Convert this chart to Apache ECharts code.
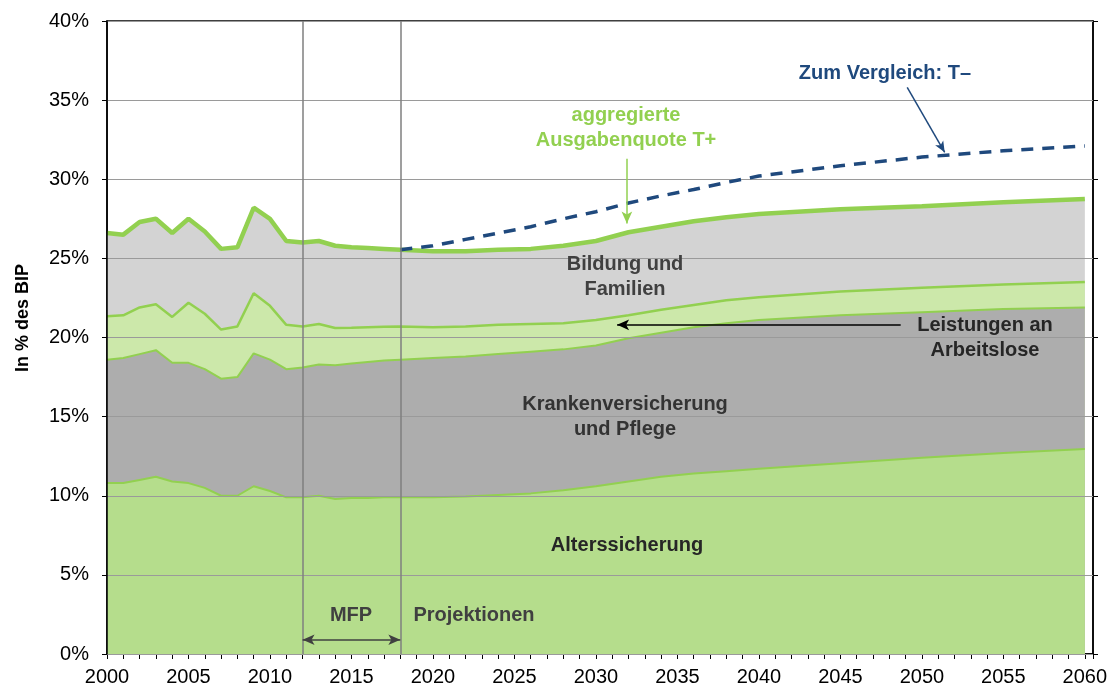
<!DOCTYPE html>
<html>
<head>
<meta charset="utf-8">
<script src="https://cdn.jsdelivr.net/npm/echarts@6/dist/echarts.min.js"></script>
<style>
  html, body { margin: 0; padding: 0; background: #fff; }
  #chart { width: 1115px; height: 693px; }
</style>
</head>
<body>
<div id="chart"></div>
<script>
// ---- data (share of GDP in %, per area) ----
const years = [2000, 2001, 2002, 2003, 2004, 2005, 2006, 2007, 2008, 2009, 2010, 2011, 2012, 2013, 2014, 2015, 2016, 2017, 2018,
  2020, 2022, 2024, 2026, 2028, 2030, 2032, 2034, 2036, 2038, 2040, 2045, 2050, 2055, 2060]
const alterssicherung = [10.8, 10.8, 11.0, 11.2, 10.9, 10.8, 10.5, 10.0, 10.0, 10.6, 10.3, 9.9, 9.9, 10.0, 9.8, 9.85, 9.85, 9.9, 9.9,
  9.9, 9.95, 10.05, 10.15, 10.35, 10.6, 10.9, 11.2, 11.4, 11.55, 11.7, 12.05, 12.4, 12.7, 12.95]
const kranken = [7.8, 7.9, 7.95, 8.0, 7.5, 7.6, 7.5, 7.4, 7.5, 8.4, 8.3, 8.1, 8.2, 8.3, 8.45, 8.5, 8.6, 8.65, 8.7,
  8.8, 8.85, 8.9, 8.95, 8.9, 8.9, 9.05, 9.1, 9.25, 9.35, 9.4, 9.35, 9.2, 9.1, 8.95]
const arbeitslose = [2.75, 2.7, 2.95, 2.9, 2.9, 3.8, 3.5, 3.1, 3.2, 3.8, 3.4, 2.8, 2.6, 2.55, 2.35, 2.27, 2.2, 2.13, 2.1,
  1.95, 1.9, 1.85, 1.75, 1.65, 1.6, 1.45, 1.45, 1.4, 1.45, 1.45, 1.5, 1.55, 1.55, 1.6]
const bildung = [5.25, 5.1, 5.4, 5.4, 5.3, 5.3, 5.2, 5.1, 5.0, 5.4, 5.5, 5.3, 5.3, 5.25, 5.2, 5.08, 5.0, 4.92, 4.85,
  4.8, 4.75, 4.75, 4.75, 4.9, 5.0, 5.25, 5.25, 5.3, 5.25, 5.25, 5.2, 5.15, 5.2, 5.25]

// comparison scenario T-
const tMinusYears = [2018, 2020, 2022, 2024, 2026, 2028, 2030, 2032, 2034, 2036, 2038, 2040, 2045, 2050, 2055, 2060]
const tMinus = [25.55, 25.8, 26.2, 26.6, 27.0, 27.5, 27.95, 28.5, 28.95, 29.35, 29.8, 30.2, 30.85, 31.4, 31.8, 32.1]

const xRange = [2000, 2060]
const yRange = [0, 40]

const GREEN = '#92d050'
const FONT = '"Liberation Sans", Arial, sans-serif'

// running totals, so each band sits on the one below it
const layers = [alterssicherung, kranken, arbeitslose, bildung]
const cumulative = layers.map((_, k) =>
  years.map((_, i) => +layers.slice(0, k + 1).reduce((s, arr) => s + arr[i], 0).toFixed(3))
)
const pairs = (xs, vs) => xs.map((x, i) => [x, vs[i]])

const chart = echarts.init(document.getElementById('chart'))

const areaSeries = (name, values, color, lineWidth) => ({
  name,
  type: 'line',
  data: pairs(years, values),
  symbol: 'none',
  lineStyle: { color: GREEN, width: lineWidth },
  areaStyle: { color, opacity: 1, origin: 'start' },
  emphasis: { disabled: true },
  z: 2,
})

// text annotations
const label = (text, x, y, color, size) => ({
  type: 'text',
  x, y, z: 100,
  style: {
    text,
    fill: color,
    font: 'bold ' + (size || 20) + 'px ' + FONT,
    align: 'center',
    verticalAlign: 'middle',
    lineHeight: 25,
  },
})

const solid = (color) => ({ color, width: 1.5, type: 'solid' })

chart.setOption({
  animation: false,
  backgroundColor: '#fff',
  grid: {
    left: 107,
    right: 22,
    top: 21,
    bottom: 39,
    show: true,
    borderColor: '#000',
    borderWidth: 1.5,
  },
  xAxis: {
    type: 'value',
    min: xRange[0],
    max: xRange[1] + 0.5,
    interval: 5,
    axisLine: { show: true, onZero: false, lineStyle: { color: '#000', width: 1.5 } },
    axisTick: { show: true, length: 5, lineStyle: { color: '#000' } },
    minorTick: { show: true, splitNumber: 5, length: 5, lineStyle: { color: '#000' } },
    splitLine: { show: false },
    axisLabel: {
      color: '#000',
      fontFamily: FONT,
      fontSize: 20,
      margin: 13,
      formatter: (v) => (v % 5 === 0 ? String(v) : ''),
    },
  },
  yAxis: [
    {
      type: 'value',
      min: yRange[0],
      max: yRange[1],
      interval: 5,
      z: 3,
      axisLine: { show: true, lineStyle: { color: '#000', width: 1.5 } },
      axisTick: { show: true, length: 5, lineStyle: { color: '#000' } },
      splitLine: { show: true, lineStyle: { color: '#9a9a9a', width: 1 } },
      axisLabel: {
        color: '#000',
        fontFamily: FONT,
        fontSize: 20,
        margin: 18,
        formatter: '{value}%',
      },
    },
    {
      type: 'value',
      position: 'right',
      min: yRange[0],
      max: yRange[1],
      interval: 5,
      axisLine: { show: true, lineStyle: { color: '#000', width: 1.5 } },
      axisTick: { show: true, length: 5, lineStyle: { color: '#000' } },
      splitLine: { show: false },
      axisLabel: { show: false },
    },
  ],
  series: [
    // drawn from the top band down, each one covering the area below its own edge
    areaSeries('Bildung und Familien', cumulative[3], '#d3d3d3', 4.5),
    areaSeries('Leistungen an Arbeitslose', cumulative[2], '#cce8aa', 2.5),
    areaSeries('Krankenversicherung und Pflege', cumulative[1], '#adadad', 2),
    areaSeries('Alterssicherung', cumulative[0], '#b5dd8c', 2),
    {
      name: 'T-',
      type: 'line',
      data: pairs(tMinusYears, tMinus),
      symbol: 'none',
      lineStyle: { color: '#1f497d', width: 3.5, type: [12, 9] },
      emphasis: { disabled: true },
      z: 4,
      markLine: {
        silent: true,
        symbol: 'none',
        label: { show: false },
        emphasis: { disabled: true },
        data: [
          { xAxis: 2012, lineStyle: solid('#7f7f7f') },
          { xAxis: 2018, lineStyle: solid('#7f7f7f') },
          [
            { coord: [2012, 0.9], symbol: 'arrow', symbolSize: [8, 12] },
            { coord: [2018, 0.9], symbol: 'arrow', symbolSize: [8, 12], lineStyle: solid('#404040') },
          ],
          [
            { coord: [2031.9, 31.3], symbol: 'none' },
            { coord: [2031.9, 27.2], symbol: 'arrow', symbolSize: [8, 12], lineStyle: solid(GREEN) },
          ],
          [
            { coord: [2049.1, 35.8], symbol: 'none' },
            { coord: [2051.4, 31.7], symbol: 'arrow', symbolSize: [7, 11], lineStyle: solid('#1f497d') },
          ],
          [
            { coord: [2048.7, 20.8], symbol: 'none' },
            { coord: [2031.3, 20.8], symbol: 'arrow', symbolSize: [8, 12], lineStyle: solid('#000') },
          ],
        ],
      },
    },
  ],
  graphic: [
    {
      type: 'text',
      x: 23, y: 318, rotation: Math.PI / 2, z: 100,
      style: {
        text: 'In % des BIP',
        fill: '#000',
        font: 'bold 18px ' + FONT,
        align: 'center',
        verticalAlign: 'middle',
      },
    },
    label('aggregierte\nAusgabenquote T+', 626, 128, GREEN),
    label('Zum Vergleich: T\u2013', 885, 73, '#1f497d'),
    label('Bildung und\nFamilien', 625, 277, '#404040'),
    label('Leistungen an\nArbeitslose', 985, 338, '#262626'),
    label('Krankenversicherung\nund Pflege', 625, 417, '#333333'),
    label('Alterssicherung', 627, 545, '#262626'),
    label('MFP', 351, 615, '#404040'),
    label('Projektionen', 474, 615, '#404040'),
  ],
})
</script>
</body>
</html>
